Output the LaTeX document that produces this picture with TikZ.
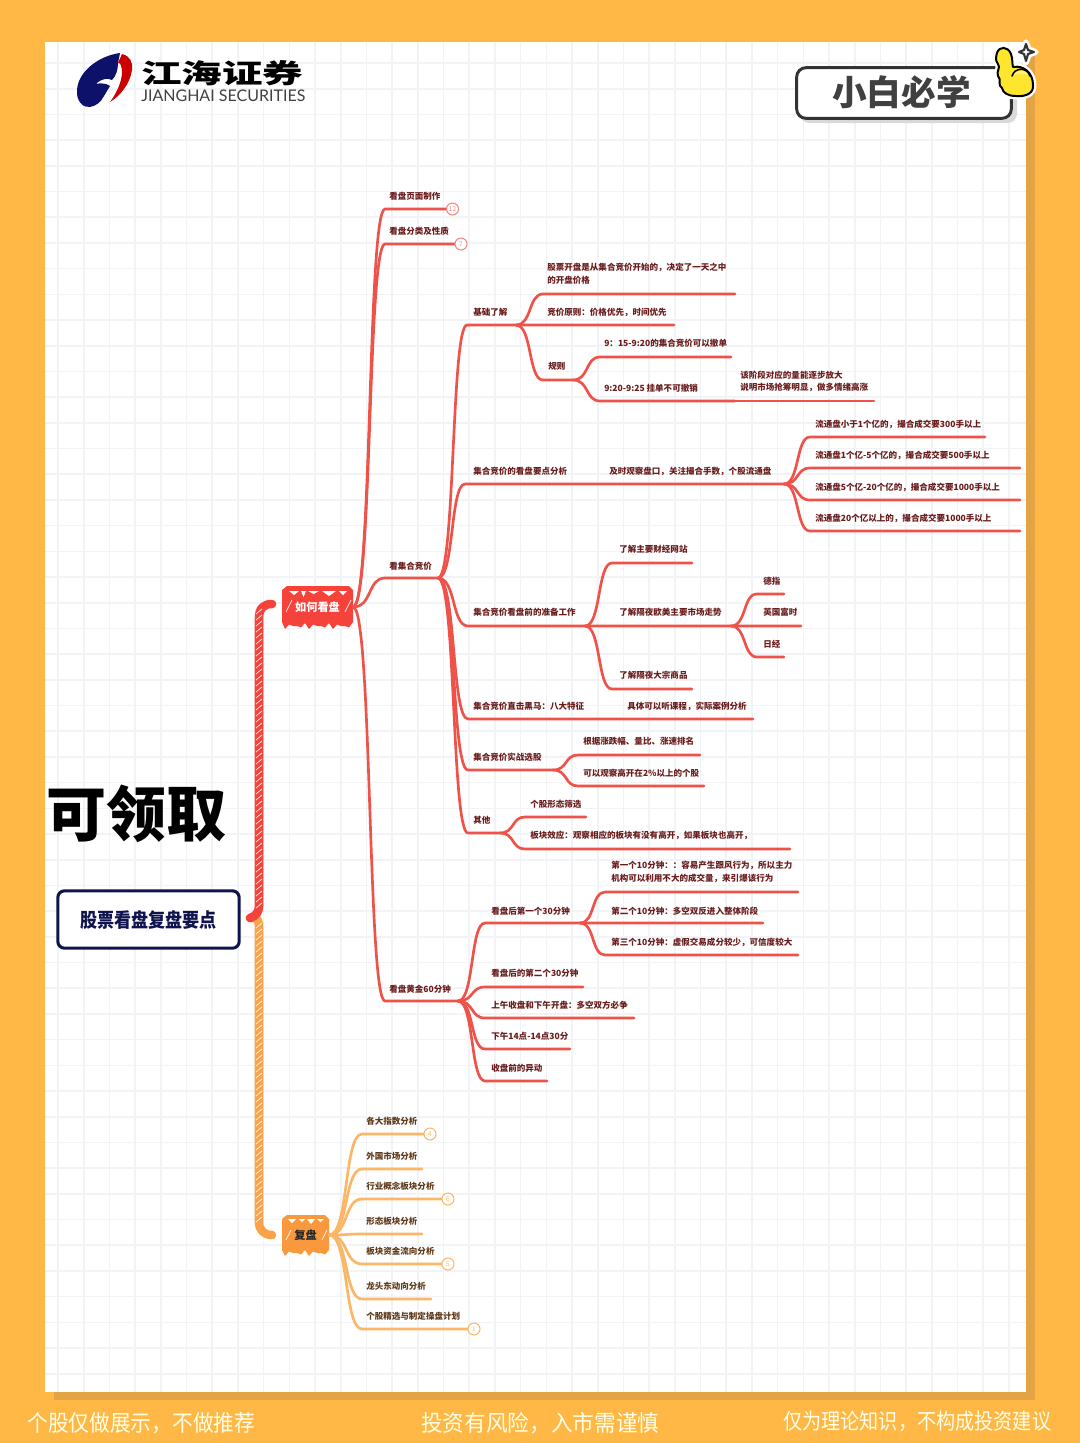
\documentclass[tikz,border=0pt]{standalone}
\usepackage{fontspec}
\usepackage{graphicx}
\setmainfont{Noto Sans CJK SC}
\newfontfamily\latinlogo{Lato}
\usetikzlibrary{calc}
\definecolor{bgor}{HTML}{FFB845}
\definecolor{shad}{HTML}{E2A444}
\definecolor{gridc}{HTML}{F2F3F7}
\definecolor{redb}{HTML}{EF5249}
\definecolor{redt}{HTML}{6A1C1C}
\definecolor{redn}{HTML}{F5423B}
\definecolor{orb}{HTML}{FBB767}
\definecolor{ort}{HTML}{5E3A1A}
\definecolor{orn}{HTML}{F9993E}
\definecolor{navy}{HTML}{10144E}
\definecolor{yel}{HTML}{FFE62E}
\tikzset{
 branch/.style={draw=redb,line width=2pt,line cap=round,line join=round},
 lbl/.style={anchor=west,inner sep=0pt,align=left,text=redt,font=\bfseries\fontsize{6.4}{9.6}\selectfont},
 cnt/.style={circle,draw=#1,fill=white,line width=0.8pt,minimum size=9pt,inner sep=0pt,text=#1,font=\fontsize{4.8}{5}\selectfont},
 rootbox/.style={minimum height=31pt,inner sep=0pt},
 trunk/.style={draw=#1,line width=6.4pt,line cap=round,line join=round},
 hatch/.style={draw=white,line width=0.6pt,opacity=.85},
}
\newcommand\tw[8]{%
 \coordinate (#1s) at (#3,#4);
 \coordinate (#1) at (#5,#4);
 \draw[branch] (#2) .. controls ($(#2)!0.6!(#2 -| #1s)$) and ($(#1s -| #2)!0.45!(#1s)$) .. (#1s) -- (#1);
 \node[lbl] (#1t) at (#6,#7) {#8};}
\begin{document}
\begin{tikzpicture}[x=0.75pt,y=-0.75pt]
\useasboundingbox (0,0) rectangle (1080,1443);
\fill[bgor] (0,0) rectangle (1080,1443);
\fill[shad] (54,50) rectangle (1035,1400);
\fill[white] (45,42) rectangle (1026,1392);
\begin{scope}
\clip (45,42) rectangle (1026,1392);
\foreach \k in {0,...,37} \draw[gridc,line width=1.2pt] ({58+25.7*\k},42) -- ({58+25.7*\k},1392);
\foreach \k in {0,...,52} \draw[gridc,line width=1.2pt] (45,{63+25.7*\k}) -- (1026,{63+25.7*\k});
\end{scope}
% logo
\fill[navy!85!blue] (120,53) .. controls (98,56) and (78,72) .. (77,90) .. controls (76,102) and (84,108) .. (90,107) .. controls (96,106) and (101,102) .. (104,96) -- (110,86) .. controls (106,83) and (100,83) .. (96,84) .. controls (102,78) and (108,78) .. (112,80) .. controls (116,76) and (118,70) .. (118,63) -- cycle;
\fill[red!80!black] (122,54) .. controls (130,56) and (133,62) .. (132,70) .. controls (130,84) and (120,96) .. (110,102) .. controls (116,94) and (122,82) .. (122,72) .. controls (122,66) and (120,62) .. (118,63) -- cycle;
\node[inner sep=0pt,anchor=west,text=black,font=\bfseries\fontsize{20}{24}\selectfont] (logocn) at (141,73) {\scalebox{1.52}[1]{江海证券}};
\node[inner sep=0pt,anchor=west,text=black!75,font=\latinlogo\fontsize{12}{14}\selectfont] (logoen) at (141,96) {JIANGHAI SECURITIES};
% badge
\fill[black!15,rounded corners=7pt] (800,71) rectangle (1017,123);
\node[draw=black!80,line width=2.2pt,fill=white,rounded corners=7pt,minimum width=161pt,minimum height=38pt,inner sep=0pt,text=black!75,font=\bfseries\fontsize{26}{30}\selectfont] (badge) at (904,93) {};
\node[inner sep=0pt,text=black!75,font=\bfseries\fontsize{26}{30}\selectfont] (badget) at (901.5,92) {小白必学};
% thumb
\def\thumbpath{(997,53) .. controls (999,46) and (1008,46) .. (1011,54) .. controls (1013,60) and (1012,64) .. (1013,67) .. controls (1024,65) and (1033,73) .. (1033,85) .. controls (1034,93) and (1026,97) .. (1016,96) .. controls (1008,96) and (1003,93) .. (1002,88) .. controls (997,85) and (1002,80) .. (998,76) .. controls (996,71) and (1001,68) .. (998,64) .. controls (995,60) and (996,57) .. (997,53) -- cycle}
\draw[white,line width=5pt,line join=round] \thumbpath;
\filldraw[fill=yel,draw=black,line width=1.5pt,line join=round] \thumbpath;
\fill[yel!55!white] (1013,75) .. controls (1016,69) and (1026,69) .. (1029,75) .. controls (1024,73) and (1018,73) .. (1013,75) -- cycle;
\draw[black,line width=1.2pt,line cap=round] (1012,76) .. controls (1015,67) and (1027,67) .. (1030,76);
\draw[white,line width=4pt,line join=round] (1026,42) -- (1029,49) -- (1036,52) -- (1029,55) -- (1026,63) -- (1023,55) -- (1017,52) -- (1023,49) -- cycle;
\filldraw[fill=white,draw=black!80,line width=1.6pt,line join=round] (1026,44) -- (1028,50) -- (1034,52) -- (1028,54) -- (1026,61) -- (1024,54) -- (1019,52) -- (1024,50) -- cycle;
% title
\node[inner sep=0pt,anchor=west,text=black,font=\bfseries\fontsize{45}{50}\selectfont] (title) at (46,814) {可领取};
\node[draw=navy,line width=2.3pt,rounded corners=5pt,fill=white,minimum width=136pt,minimum height=43pt,inner sep=0pt] (mainbox) at (148.5,919.5) {};
\node[inner sep=0pt,text=navy,font=\bfseries\fontsize{12.8}{16}\selectfont] (mainboxt) at (148.5,920) {\scalebox{1}[1.15]{股票看盘复盘要点}};
% top nodes
\fill[redn] (287,586) -- (349,586) -- (353,590) -- (353,622) foreach \x [count=\i] in {349,345,...,285} { -- (\x,{623+mod(\i,2)*3+mod(\i,3)*1.5}) } -- (282,622) -- (282,590) -- cycle;
\fill[orn] (287,1215) -- (325,1215) -- (329,1219) -- (329,1250) foreach \x [count=\i] in {325,321,...,285} { -- (\x,{1250+mod(\i,2)*3+mod(\i,3)*1.5}) } -- (282,1250) -- (282,1219) -- cycle;
\node[rootbox,minimum width=53pt] (ruhe) at (317.5,607) {};
\node[rootbox,minimum width=35pt] (fupan) at (305.5,1235) {};
\foreach \a/\b/\d in {289/299/4,301/306/6,308/319/3,322/336/5,339/347/4} \fill[white] (\a,591) -- (\b,591) -- ({(\a+\b)/2},591+\d) -- cycle;
\foreach \a/\b/\d in {288/296/4,299/305/3,307/315/5,317/324/3} \fill[white] (\a,1219) -- (\b,1219) -- ({(\a+\b)/2},1219+\d) -- cycle;
\foreach \x in {286,345} \draw[hatch] (\x,612) -- (\x+6,600);
\foreach \x in {286,322} \draw[hatch] (\x,1240) -- (\x+5,1230);
\node[text=white,inner sep=0pt,font=\bfseries\fontsize{8.4}{10}\selectfont] (ruhet) at (ruhe.center) {如何看盘};
\node[text=black!85,inner sep=0pt,font=\bfseries\fontsize{8.4}{10}\selectfont] (fupant) at (fupan.center) {复盘};
% trunks
\coordinate (trunkTop) at (272,604);
\coordinate (trunkMid) at (250,918);
\coordinate (trunkEnd) at (272,1235);
\draw[trunk=orn!70!orb] (trunkMid) -- (254,918) .. controls (258,918) and (259,922) .. (259,928) -- (259,1222) .. controls (259,1230) and (264,1235) .. (trunkEnd);
\draw[trunk=redn] (trunkTop) .. controls (264,604) and (259,608) .. (259,618) -- (259,906) .. controls (259,912) and (256,916) .. (trunkMid);
\foreach \y in {612,618,...,906} \draw[hatch] (256,\y+2) -- (262,\y-3);
\foreach \y in {926,932,...,1222} \draw[hatch] (256,\y+2) -- (262,\y-3);
% red branches
\tw{a}{ruhe.east}{385}{209}{448}{389}{196}{看盘页面制作}
\tw{b}{ruhe.east}{385}{244}{456}{389}{231}{看盘分类及性质}
\tw{c}{ruhe.east}{385}{578}{438}{389}{566}{看集合竞价}
\tw{d}{ruhe.east}{385}{1001}{458}{389}{989}{看盘黄金60分钟}
\node[cnt=redb!70] (an) at (452.5,209) {12};
\node[cnt=redb!70] (bn) at (461,244) {7};
\tw{c1}{c}{467}{325}{516}{473}{312}{基础了解}
\tw{c11}{c1}{543}{294}{735}{547}{273.5}{股票开盘是从集合竞价开始的，决定了一天之中\\的开盘价格}
\tw{c12}{c1}{543}{325}{674}{547}{312}{竞价原则：价格优先，时间优先}
\tw{c13}{c1}{543}{380}{573}{548}{366}{规则}
\tw{c131}{c13}{600}{357}{731}{604}{343}{9：15-9:20的集合竞价可以撤单}
\tw{c132}{c13}{600}{401}{735}{604}{388}{9:20-9:25 挂单不可撤销}
\coordinate (c133) at (874,401);
\draw[branch] (c132) -- (c133);
\node[lbl] (c133t) at (740,381.5) {该阶段对应的量能逐步放大\\说明市场抢筹明显，做多情绪高涨};
\tw{c2}{c}{465}{484}{784}{473}{471}{集合竞价的看盘要点分析}
\node[lbl] (c2b) at (609,471) {及时观察盘口，关注撮合手数，个股流通盘};
\tw{c21}{c2}{810}{437}{985}{815}{424}{流通盘小于1个亿的，撮合成交要300手以上}
\tw{c22}{c2}{810}{468}{1020}{815}{455}{流通盘1个亿-5个亿的，撮合成交要500手以上}
\tw{c23}{c2}{810}{500}{1020}{815}{487}{流通盘5个亿-20个亿的，撮合成交要1000手以上}
\tw{c24}{c2}{810}{531}{1020}{815}{518}{流通盘20个亿以上的，撮合成交要1000手以上}
\tw{c3}{c}{468}{626}{585}{473}{612}{集合竞价看盘前的准备工作}
\tw{c31}{c3}{612}{563}{692}{619}{549}{了解主要财经网站}
\tw{c32}{c3}{612}{626}{731}{619}{612}{了解隔夜欧美主要市场走势}
\tw{c33}{c3}{612}{689}{692}{619}{675}{了解隔夜大宗商品}
\tw{c321}{c32}{757}{594}{784}{763}{581}{德指}
\tw{c322}{c32}{757}{626}{801}{763}{612}{英国富时}
\tw{c323}{c32}{757}{657}{784}{763}{644}{日经}
\tw{c4}{c}{468}{719}{753}{473}{706}{集合竞价直击黑马：八大特征}
\node[lbl] (c4b) at (627,706) {具体可以听课程，实际案例分析};
\tw{c5}{c}{468}{770}{553}{473}{757}{集合竞价实战选股}
\tw{c51}{c5}{578}{755}{700}{583}{741}{根据涨跌幅、量比、涨速排名}
\tw{c52}{c5}{578}{786}{704}{583}{773}{可以观察高开在2\%以上的个股}
\tw{c6}{c}{468}{833}{500}{473}{820}{其他}
\tw{c61}{c6}{525}{817}{586}{530}{804}{个股形态筛选}
\tw{c62}{c6}{525}{849}{790}{530}{835}{板块效应：观察相应的板块有没有高开，如果板块也高开，}
\tw{d1}{d}{485}{923}{580}{491}{911}{看盘后第一个30分钟}
\tw{d11}{d1}{605}{892}{798}{611}{872}{第一个10分钟：：容易产生跟风行为，所以主力\\机构可以利用不大的成交量，来引爆该行为}
\tw{d12}{d1}{605}{923}{763}{611}{911}{第二个10分钟：多空双反进入整体阶段}
\tw{d13}{d1}{605}{955}{798}{611}{942}{第三个10分钟：虚假交易成分较少，可信度较大}
\tw{d2}{d}{485}{987}{583}{491}{973}{看盘后的第二个30分钟}
\tw{d3}{d}{485}{1018}{634}{491}{1005}{上午收盘和下午开盘：多空双方必争}
\tw{d4}{d}{485}{1049}{570}{491}{1036}{下午14点-14点30分}
\tw{d5}{d}{485}{1081}{547}{491}{1068}{收盘前的异动}
% orange branches
\begin{scope}[branch/.style={draw=orb,line width=2pt,line cap=round,line join=round},lbl/.append style={text=ort}]
\tw{e1}{fupan.east}{362}{1134}{425}{366}{1121}{各大指数分析}
\tw{e2}{fupan.east}{362}{1169}{422}{366}{1156}{外国市场分析}
\tw{e3}{fupan.east}{362}{1199}{442}{366}{1186}{行业概念板块分析}
\tw{e4}{fupan.east}{362}{1234}{422}{366}{1221}{形态板块分析}
\tw{e5}{fupan.east}{362}{1264}{442}{366}{1251}{板块资金流向分析}
\tw{e6}{fupan.east}{362}{1299}{431}{366}{1286}{龙头东动向分析}
\tw{e7}{fupan.east}{362}{1329}{468}{366}{1316}{个股精选与制定操盘计划}
\node[cnt=orb] (e1n) at (430,1134) {4};
\node[cnt=orb] (e3n) at (448,1199) {6};
\node[cnt=orb] (e5n) at (448,1264) {5};
\node[cnt=orb] (e7n) at (474,1329) {1};
\end{scope}
% footer
\node[inner sep=0pt,anchor=west,text=white!90!yellow,font=\fontsize{17}{20}\selectfont] (f1) at (27,1423) {\scalebox{0.915}[1]{个股仅做展示，不做推荐}};
\node[inner sep=0pt,anchor=west,text=white!90!yellow,font=\fontsize{17}{20}\selectfont] (f2) at (421,1423) {\scalebox{0.955}[1]{投资有风险，入市需谨慎}};
\node[inner sep=0pt,anchor=west,text=white!90!yellow,font=\fontsize{16.5}{20}\selectfont] (f3) at (783,1421) {\scalebox{0.87}[1]{仅为理论知识，不构成投资建议}};
\end{tikzpicture}
\end{document}
